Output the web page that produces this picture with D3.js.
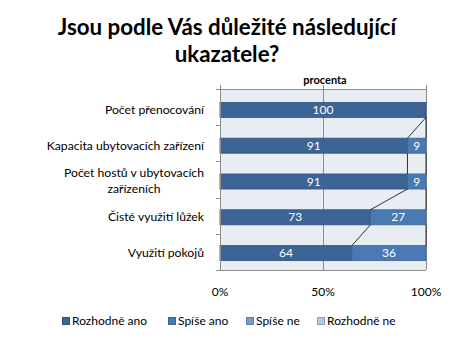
<!DOCTYPE html>
<html><head><meta charset="utf-8">
<script src="https://cdn.jsdelivr.net/npm/d3@7"></script>
<style>body{margin:0;background:#fff}svg{display:block}</style>
</head><body>
<script>
const categories = ["Počet přenocování","Kapacita ubytovacích zařízení","Počet hostů v ubytovacích zařízeních","Čisté využití lůžek","Využití pokojů"];
const categoryLines = [["Počet přenocování"],["Kapacita ubytovacích zařízení"],["Počet hostů v ubytovacích","zařízeních"],["Čisté využití lůžek"],["Využití pokojů"]];
const seriesNames = ["Rozhodně ano","Spíše ano","Spíše ne","Rozhodně ne"];
const rozhodneAno = [100,91,91,73,64];
const spiseAno = [0,9,9,27,36];
const spiseNe = [0,0,0,0,0];
const rozhodneNe = [0,0,0,0,0];
const tickValues = [0,50,100];
const tickLabels = ["0%","50%","100%"];
const colors = ["#3c6494","#4a7ab4","#7d98c8","#b8c6e0"];
const strokes = ["#2f5380","#3a6499","#5f7fb3","#8a9fc4"];

const W=456,H=342;
const svg=d3.select("body").append("svg").attr("width",W).attr("height",H);
const FONT="Lato, 'Open Sans', sans-serif";

svg.append("text").attr("x",227).attr("y",35).attr("text-anchor","middle")
  .attr("font-family",FONT).attr("font-weight","bold").attr("font-size",22.3).attr("fill","#000")
  .text("Jsou podle Vás důležité následující");
svg.append("text").attr("x",227).attr("y",62).attr("text-anchor","middle")
  .attr("font-family",FONT).attr("font-weight","bold").attr("font-size",22.3).attr("fill","#000")
  .text("ukazatele?");

const pL=220,pR=426,pT=89,pB=270;
const x=d3.scaleLinear().domain([0,100]).range([pL,pR]);
const y=d3.scaleBand().domain(categories).range([92,271]).paddingInner(0.58).paddingOuter(0.29);

svg.append("rect").attr("x",pL).attr("y",pT).attr("width",pR-pL).attr("height",pB-pT).attr("fill","#e8ecf3");

svg.append("g").selectAll("line").data(tickValues).join("line")
  .attr("x1",d=>Math.round(x(d))+0.5).attr("x2",d=>Math.round(x(d))+0.5).attr("y1",pT-4).attr("y2",pB)
  .attr("stroke","#8c8c8c").attr("stroke-width",1);
svg.append("line").attr("x1",pL-4).attr("x2",pR).attr("y1",pT+0.5).attr("y2",pT+0.5).attr("stroke","#8c8c8c");
svg.append("line").attr("x1",pL-4).attr("x2",pR).attr("y1",pB+0.5).attr("y2",pB+0.5).attr("stroke","#8c8c8c");
const step=(pB-pT)/categories.length;
svg.append("g").selectAll("line").data(d3.range(1,categories.length)).join("line")
  .attr("x1",pL-4).attr("x2",pL).attr("y1",i=>Math.round(pT+i*step)+0.5).attr("y2",i=>Math.round(pT+i*step)+0.5)
  .attr("stroke","#8c8c8c");

const seriesVals=[rozhodneAno,spiseAno,spiseNe,rozhodneNe];
const table=categories.map((c,i)=>{const o={cat:c};seriesNames.forEach((s,k)=>o[s]=seriesVals[k][i]);return o;});
const stacked=d3.stack().keys(seriesNames)(table);

stacked.forEach((layer,k)=>{
  const g=svg.append("g");
  g.selectAll("rect").data(layer.filter(d=>d[1]-d[0]>0)).join("rect")
    .attr("x",d=>x(d[0])).attr("width",d=>x(d[1])-x(d[0]))
    .attr("y",d=>y(d.data.cat)).attr("height",y.bandwidth())
    .attr("fill",colors[k]).attr("stroke",strokes[k]).attr("stroke-width",0.8);
  g.selectAll("text").data(layer.filter(d=>d[1]-d[0]>0)).join("text")
    .attr("x",d=>(x(d[0])+x(d[1]))/2).attr("y",d=>y(d.data.cat)+y.bandwidth()/2+4)
    .attr("text-anchor","middle").attr("font-family",FONT).attr("font-size",12).attr("fill","#fff")
    .text(d=>d[1]-d[0]);
});

[0,1].forEach(k=>{
  const layer=stacked[k];
  for(let i=0;i<layer.length-1;i++){
    svg.append("line")
      .attr("x1",x(layer[i][1])).attr("y1",y(categories[i])+y.bandwidth())
      .attr("x2",x(layer[i+1][1])).attr("y2",y(categories[i+1]))
      .attr("stroke","#000").attr("stroke-width",0.8);
  }
});

svg.append("line").attr("x1",pL+0.5).attr("x2",pL+0.5).attr("y1",pT).attr("y2",pB).attr("stroke","#8c8c8c");

categoryLines.forEach((lines,i)=>{
  const cy=y(categories[i])+y.bandwidth()/2;
  const lh=16;
  const t=svg.append("text").attr("font-family",FONT).attr("font-size",12.2).attr("fill","#000");
  const n=lines.length;
  if(n===1){
    t.attr("x",204).attr("y",cy+4).attr("text-anchor","end").text(lines[0]);
  } else {
    const tmp=svg.append("text").attr("font-family",FONT).attr("font-size",12.2).text(lines[0]);
    const w=tmp.node().getComputedTextLength(); tmp.remove();
    const cx=204-w/2;
    t.attr("text-anchor","middle");
    lines.forEach((l,j)=>t.append("tspan").attr("x",cx).attr("y",cy+4+(j-(n-1)/2)*lh-0.5).text(l));
  }
});

svg.append("text").attr("x",(pL+pR)/2+2).attr("y",84).attr("text-anchor","middle")
  .attr("font-family",FONT).attr("font-weight","bold").attr("font-size",11).text("procenta");

svg.append("g").selectAll("text").data(tickValues).join("text")
  .attr("x",d=>x(d)).attr("y",296).attr("text-anchor","middle")
  .attr("font-family",FONT).attr("font-size",12).text((d,i)=>tickLabels[i]);

const legX=[62,168,246,317];
seriesNames.forEach((s,k)=>{
  svg.append("rect").attr("x",legX[k]+0.5).attr("y",317.5).attr("width",7).attr("height",7)
    .attr("fill",colors[k]).attr("stroke",strokes[k]);
  svg.append("text").attr("x",legX[k]+10).attr("y",325).attr("font-family",FONT).attr("font-size",12).text(s);
});
</script>
</body></html>
